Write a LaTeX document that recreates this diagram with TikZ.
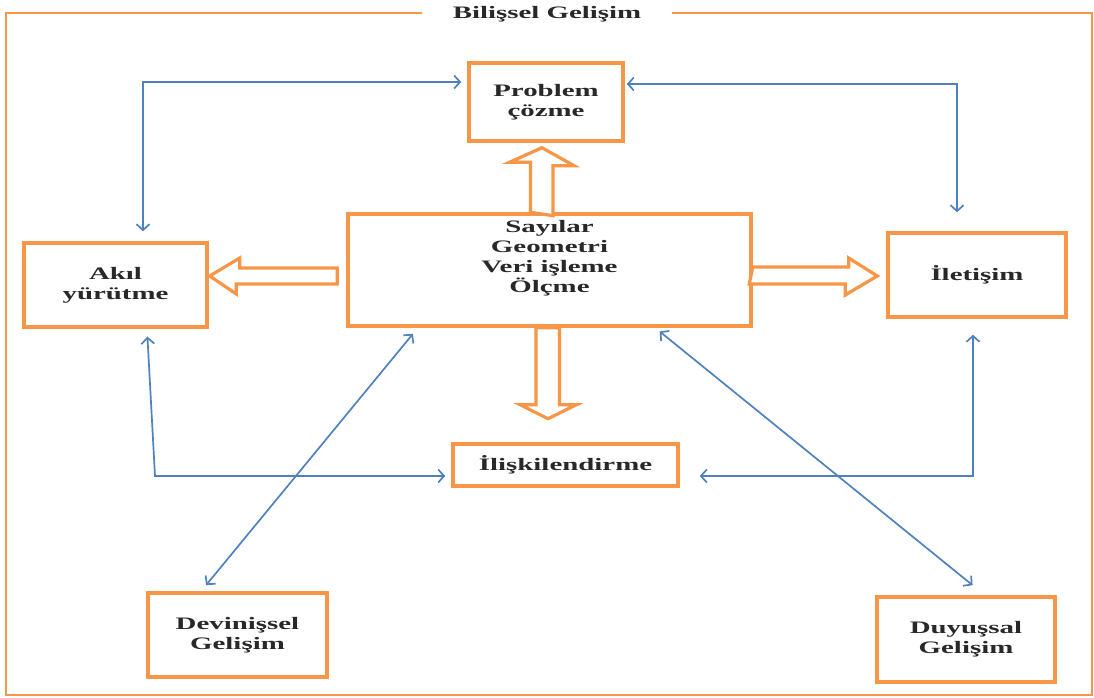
\documentclass[tikz,border=0pt]{standalone}
\usepackage{fontspec}
\setmainfont{Liberation Serif}[FakeStretch=1.65]
\usetikzlibrary{arrows.meta,calc}
\definecolor{orng}{RGB}{247,150,70}
\definecolor{blu}{RGB}{79,129,189}
\definecolor{txt}{RGB}{40,40,40}
\begin{document}
\begin{tikzpicture}[x=1pt,y=-1pt,
  box/.style={draw=orng,line width=3.4pt,fill=white,rectangle,align=center,
    text=txt,font=\fontsize{17.5}{20}\selectfont\bfseries,inner sep=0pt},
  bl/.style={draw=blu,line width=1.7pt,{Straight Barb[length=6pt,width=13pt]}-{Straight Barb[length=6pt,width=13pt]}},
  hol/.style={draw=orng,line width=3.2pt,fill=white,line join=miter},
  lbl/.style={text=txt,font=\fontsize{17.5}{20}\selectfont\bfseries,align=center,inner sep=0pt}]
\useasboundingbox (0,0) rectangle (1094,698);
% outer frame
\draw[orng,line width=2.4pt] (6,13) rectangle (1092,695);
\node[lbl,fill=white,minimum width=250pt,minimum height=20pt] (title) at (547,14) {Bilişsel Gelişim};
% boxes
\node[box,minimum width=154pt,minimum height=78pt] (prob) at (546,102) {Problem\\çözme};
\node[box,minimum width=403pt,minimum height=112pt] (cen) at (549.5,270) {};
\node[lbl] (centext) at (549.5,258) {Sayılar\\Geometri\\Veri işleme\\Ölçme};
\node[box,minimum width=183pt,minimum height=84pt] (akil) at (115.5,285) {Akıl\\yürütme};
\node[box,minimum width=178pt,minimum height=84pt] (ilet) at (977,275) {İletişim};
\node[box,minimum width=225pt,minimum height=42pt] (ilis) at (565.5,465) {İlişkilendirme};
\node[box,minimum width=179pt,minimum height=84pt] (devin) at (237.5,635) {Devinişsel\\Gelişim};
\node[box,minimum width=178pt,minimum height=85pt] (duy) at (966,639.5) {Duyuşsal\\Gelişim};
% hollow orange arrows
\draw[hol] ($(cen.north)+(-19,0)$) -- ++(0,-50) -- ++(-21,0) -- ($(prob.south)+(-4,5)$) -- ++(32,18) -- ++(-21,0) -- ++(0,50) -- cycle;
\draw[hol] ($(cen.south)+(-13.5,0)$) -- ++(0,77) -- ++(-16,0) -- ($(cen.south)+(-1.5,91)$) -- ++(28.5,-14) -- ++(-17,0) -- ++(0,-77) -- cycle;
\draw[hol] ($(akil.east)+(1,-9)$) -- ++(30,-18) -- ++(0,10) -- ($(cen.west)+(-9,-2)$) -- ++(0,16) -- ++(-101,0) -- ++(0,10) -- cycle;
\draw[hol] ($(cen.east)+(0,-3)$) -- ++(96,0) -- ++(0,-9) -- ($(ilet.west)+(-9,1)$) -- ++(-32,19) -- ++(0,-11) -- ++(-96,0) -- cycle;
% blue connectors
\coordinate (c1) at (143,82);
\coordinate (c2) at (957,84);
\coordinate (c3) at (155,476);
\coordinate (c4) at (973,476);
\draw[bl,shorten <=6pt,shorten >=10pt] (prob.west |- c1) -- (c1) -- (c1 |- akil.north);
\draw[bl,shorten <=2pt,shorten >=19pt] (prob.east |- c2) -- (c2) -- (c2 |- ilet.north);
\draw[bl,shorten <=8pt,shorten >=6pt] ($(akil.south)+(31.5,0)$) -- (c3) -- (c3 -| ilis.west);
\draw[bl,shorten <=16pt,shorten >=20pt] (c4 |- ilet.south) -- (c4) -- (c4 -| ilis.east);
\draw[bl,shorten <=8pt,shorten >=8pt] ($(cen.south)+(-131.5,0)$) -- ($(devin.north)+(-36.5,0)$);
\draw[bl,shorten <=6pt,shorten >=16pt] ($(cen.south)+(105.5,0)$) -- ($(duy.north)+(19,0)$);
\end{tikzpicture}
\end{document}
